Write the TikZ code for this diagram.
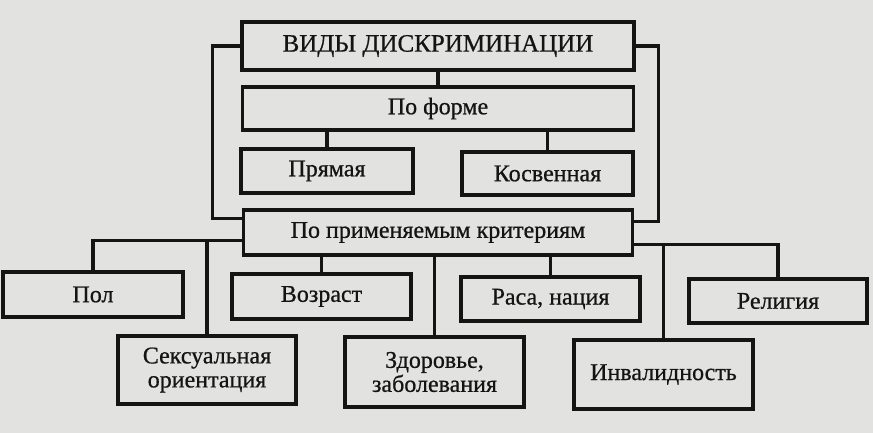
\documentclass[tikz,border=0pt]{standalone}
\usepackage{fontspec}
\setmainfont{Liberation Serif}
\newfontfamily\boxfont[FakeBold=0.7]{Liberation Serif}
\definecolor{paper}{RGB}{226,226,224}
\definecolor{ink}{RGB}{20,20,20}

\tikzset{
    box/.style={draw=ink, line width=3.2pt, fill=paper, minimum width=179pt, minimum height=44pt,
        inner sep=0pt, align=center, text=ink, font=\boxfont\fontsize{24}{24}\selectfont},
    link/.style={draw=ink, line width=3.4pt},
}

\begin{document}
\begin{tikzpicture}[x=1pt, y=-1pt]
    \fill[paper] (0,0) rectangle (873,433);

    \node[box, minimum width=392pt, minimum height=48pt, font=\boxfont\fontsize{25}{27}\selectfont] (vidy) at (438,46) {ВИДЫ ДИСКРИМИНАЦИИ};
    \node[box, minimum width=391pt, minimum height=43pt] (forma) at (438,108.5) {По форме};
    \node[box, minimum width=172pt] (pryam) at (327,171) {Прямая};
    \node[box, minimum width=171pt, minimum height=43pt] (kosv) at (547.5,173.5) {Косвенная};
    \node[box, minimum width=389pt, minimum height=45pt] (krit) at (438,232.5) {По применяемым критериям};

    \node[box, minimum width=180pt, minimum height=45pt] (pol) at (93,294.5) {Пол};
    \node[box, minimum height=45pt] (vozr) at (321.5,296.5) {Возраст};
    \node[box] (rasa) at (550.5,299) {Раса, нация};
    \node[box, minimum width=178pt] (relig) at (778,301) {Религия};
    \node[box, minimum width=178pt, minimum height=68pt] (seks) at (207,370) {Сексуальная\\ориентация};
    \node[box, minimum height=70pt] (zdor) at (434.5,372) {Здоровье,\\заболевания};
    \node[box, minimum height=69pt] (inval) at (663.5,374.5) {Инвалидность};

    \draw[link] (vidy.south) -- (forma.north);
    \draw[link] (forma.south -| pryam.north) -- (pryam.north);
    \draw[link] (forma.south -| kosv.north) -- (kosv.north);
    \draw[link] (vidy.west) -- ++(-28,0) |- ([yshift=-10pt]krit.north west);
    \draw[link] (vidy.east) -- ++(23,0) |- ([yshift=-13pt]krit.north east);

    \coordinate (kl) at ([yshift=16pt]krit.south west);
    \coordinate (kr) at ([yshift=12pt]krit.south east);
    \draw[link] (kl) -| (pol.north);
    \draw[link] (kl -| seks.north) -- (seks.north);
    \draw[link] (krit.south -| vozr.north) -- (vozr.north);
    \draw[link] (krit.south -| zdor.north) -- (zdor.north);
    \draw[link] (krit.south -| rasa.north) -- (rasa.north);
    \draw[link] (kr) -| (relig.north);
    \draw[link] (kr -| inval.north) -- (inval.north);
\end{tikzpicture}
\end{document}
